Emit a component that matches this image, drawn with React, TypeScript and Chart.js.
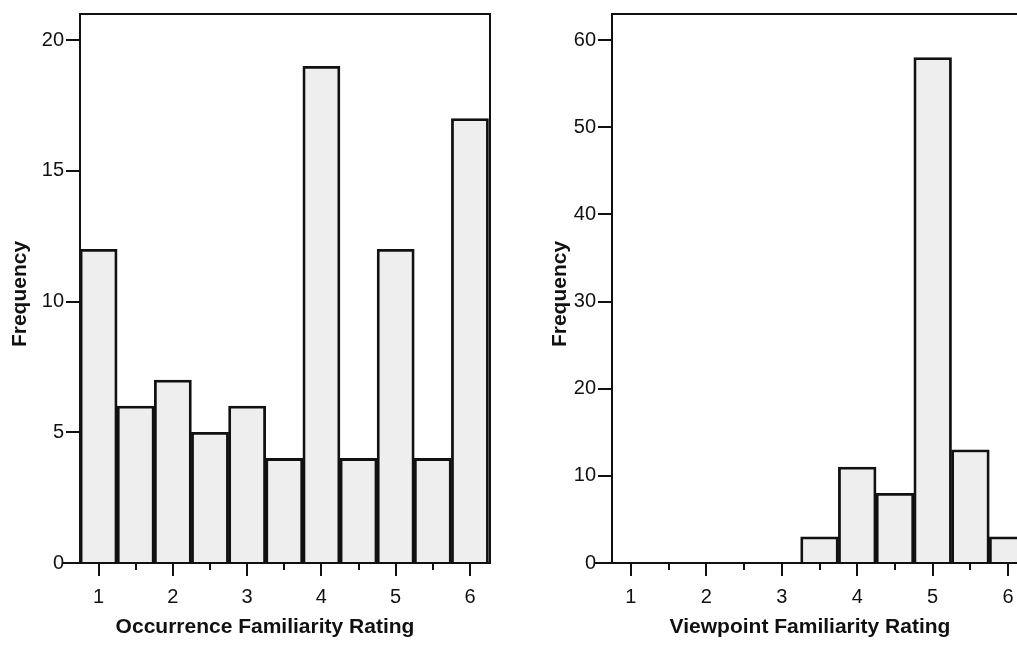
import React, { useEffect, useRef } from "react";
import { Chart, registerables } from "chart.js";

Chart.register(...registerables);

// ---- Data ----
const binCenters = [1, 1.5, 2, 2.5, 3, 3.5, 4, 4.5, 5, 5.5, 6];
const occurrenceCounts = [12, 6, 7, 5, 6, 4, 19, 4, 12, 4, 17];
const viewpointCounts = [0, 0, 0, 0, 0, 3, 11, 8, 58, 13, 3];
const xMajorTicks = [1, 2, 3, 4, 5, 6];
const xMinorTicks = [1.5, 2.5, 3.5, 4.5, 5.5];
const occurrenceYTicks = [0, 5, 10, 15, 20];
const viewpointYTicks = [0, 10, 20, 30, 40, 50, 60];
const yTitle = "Frequency";
const occurrenceTitle = "Occurrence Familiarity Rating";
const viewpointTitle = "Viewpoint Familiarity Rating";

const INK = "#111111";
const BAR_FILL = "#eeeeee";
const FONT = '"Liberation Sans", Arial, Helvetica, sans-serif';

const framePlugin = {
  id: "frame",
  afterDraw(chart: any, _args: any, opts: any) {
    const { ctx, chartArea: a, scales } = chart;
    ctx.save();
    ctx.strokeStyle = INK;
    ctx.lineWidth = 2;
    ctx.beginPath();
    // top and right frame
    ctx.moveTo(a.left, a.top);
    ctx.lineTo(a.right, a.top);
    ctx.lineTo(a.right, a.bottom);
    // x axis line extended to the left
    ctx.moveTo(a.left - 18, a.bottom);
    ctx.lineTo(a.left, a.bottom);
    // minor ticks
    for (const v of xMinorTicks) {
      const px = Math.round(scales.x.getPixelForValue(v));
      ctx.moveTo(px, a.bottom);
      ctx.lineTo(px, a.bottom + 7);
    }
    ctx.stroke();

    // titles
    ctx.fillStyle = INK;
    ctx.font = `bold 21px ${FONT}`;
    ctx.textAlign = "center";
    ctx.textBaseline = "alphabetic";
    ctx.fillText(opts.xTitle, opts.xTitleX, opts.xTitleY);
    ctx.save();
    ctx.translate(opts.yTitleX, opts.yTitleY);
    ctx.rotate(-Math.PI / 2);
    ctx.fillText(opts.yTitle, 0, 0);
    ctx.restore();
    ctx.restore();
  },
};

function makeConfig(
  counts: number[],
  yTicks: number[],
  yMax: number,
  xMax: number,
  padRight: number,
  frameOpts: any
): any {
  return {
    type: "bar",
    data: {
      datasets: [
        {
          data: binCenters.map((x, i) => ({ x, y: counts[i] })),
          backgroundColor: BAR_FILL,
          borderColor: INK,
          borderWidth: 2.8,
          barPercentage: 1,
          categoryPercentage: 1,
          borderSkipped: "start",
        },
      ],
    },
    options: {
      responsive: false,
      animation: false,
      devicePixelRatio: 1,
      layout: { padding: { top: 11, right: padRight, left: 0, bottom: 0 } },
      plugins: {
        legend: { display: false },
        tooltip: { enabled: false },
        frame: frameOpts,
      },
      scales: {
        x: {
          type: "linear",
          offset: false,
          min: 0.75,
          max: xMax,
          afterFit: (s: any) => {
            s.height = 82;
          },
          afterBuildTicks: (s: any) => {
            s.ticks = xMajorTicks.map((v) => ({ value: v }));
          },
          ticks: {
            color: INK,
            font: { family: FONT, size: 20 },
            padding: 9,
            autoSkip: false,
            maxRotation: 0,
            callback: (v: any) => String(v),
          },
          grid: {
            offset: false,
            drawOnChartArea: false,
            drawTicks: true,
            tickLength: 13,
            color: INK,
            lineWidth: 2,
          },
          border: { display: true, color: INK, width: 2 },
        },
        y: {
          type: "linear",
          min: 0,
          max: yMax,
          afterFit: (s: any) => {
            s.width = 80;
          },
          afterBuildTicks: (s: any) => {
            s.ticks = yTicks.map((v) => ({ value: v }));
          },
          ticks: {
            color: INK,
            font: { family: FONT, size: 20 },
            padding: 2,
            autoSkip: false,
            callback: (v: any) => String(v),
          },
          grid: {
            drawOnChartArea: false,
            drawTicks: true,
            tickLength: 14,
            color: INK,
            lineWidth: 2,
          },
          border: { display: true, color: INK, width: 2 },
        },
      },
    },
    plugins: [framePlugin],
  };
}

function ChartCanvas({ config, left, width, height }: any) {
  const ref = useRef<HTMLCanvasElement | null>(null);
  useEffect(() => {
    if (!ref.current) return;
    const chart = new Chart(ref.current, config);
    return () => chart.destroy();
  }, []);
  return (
    <canvas
      ref={ref}
      width={width}
      height={height}
      style={{ position: "absolute", left, top: 0, width, height, display: "block" }}
    />
  );
}

export default function App() {
  const leftConfig = makeConfig(occurrenceCounts, occurrenceYTicks, 21, 6.27, 20, {
    xTitle: occurrenceTitle,
    xTitleX: 265,
    xTitleY: 633,
    yTitle,
    yTitleX: 26,
    yTitleY: 294,
  });
  const rightConfig = makeConfig(viewpointCounts, viewpointYTicks, 63, 6.25, 5, {
    xTitle: viewpointTitle,
    xTitleX: 278,
    xTitleY: 633,
    yTitle,
    yTitleX: 34,
    yTitleY: 294,
  });
  return (
    <div
      style={{
        position: "absolute",
        left: 0,
        top: 0,
        width: 1017,
        height: 645,
        overflow: "hidden",
        background: "#ffffff",
      }}
    >
      <ChartCanvas config={leftConfig} left={0} width={510} height={645} />
      <ChartCanvas config={rightConfig} left={532} width={500} height={645} />
    </div>
  );
}
